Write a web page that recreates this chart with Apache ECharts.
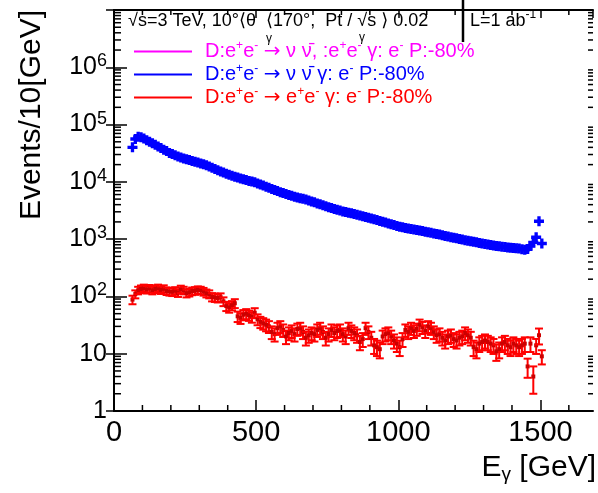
<!DOCTYPE html>
<html>
<head>
<meta charset="utf-8">
<script src="https://cdn.jsdelivr.net/npm/echarts@6/dist/echarts.min.js"></script>
<style>
html, body { margin: 0; padding: 0; background: #fff; }
#chart { width: 598px; height: 493px; }
</style>
</head>
<body>
<div id="chart"></div>
<script>
// 10 GeV bins, first bin starts at 60 GeV
var binStart = 60
var binWidth = 10

// e+e- -> nu nubar gamma (blue)
var nngCounts = [
  40000, 56000, 61000, 60000, 57000, 53000, 50000, 47000, 44500, 41500,
  39000, 36500, 34500, 32000, 30500, 29000, 27800, 26500, 25600, 24800,
  24000, 23200, 22500, 21800, 21000, 20200, 19400, 18500, 17600, 16700,
  16000, 15200, 14500, 13900, 13300, 12800, 12300, 11900, 11500, 11100,
  10800, 10400, 10100, 9800, 9400, 9000, 8600, 8200, 7900, 7500,
  7200, 6900, 6600, 6400, 6150, 5900, 5700, 5500, 5350, 5200,
  5050, 4900, 4750, 4550, 4400, 4200, 4050, 3900, 3750, 3600,
  3480, 3350, 3250, 3150, 3050, 2980, 2900, 2820, 2740, 2660,
  2590, 2520, 2440, 2370, 2300, 2220, 2150, 2080, 2010, 1950,
  1880, 1820, 1760, 1700, 1650, 1610, 1570, 1540, 1510, 1480,
  1450, 1420, 1390, 1350, 1320, 1290, 1260, 1230, 1200, 1170,
  1140, 1110, 1080, 1060, 1040, 1010, 990, 960, 940, 920,
  900, 880, 860, 840, 820, 805, 790, 775, 760, 748,
  738, 728, 718, 710, 702, 694, 684, 668, 650, 672,
  760, 880, 1080, 2050, 840
]

// e+e- -> e+e- gamma (red)
var eegCounts = [
  88, 110, 128, 135, 140, 132, 138, 128, 135, 140,
  130, 136, 125, 122, 120, 126, 116, 134, 128, 114,
  118, 124, 126, 130, 128, 122, 114, 110, 98, 96,
  94, 97, 82, 68, 64, 70, 76, 45, 42, 48,
  50, 47, 44, 52, 40, 36, 34, 32, 30, 24,
  22, 28, 30, 26, 20, 23, 25, 22, 27, 28,
  24, 19, 21, 23, 22, 26, 28, 24, 19, 22,
  26, 23, 25, 26, 22, 20, 28, 25, 23, 21,
  16, 18, 28, 24, 19, 14, 13, 12, 20, 22,
  23, 20, 17, 15, 13, 18, 26, 24, 28, 25,
  27, 32, 29, 25, 30, 28, 24, 21, 22, 19,
  17, 20, 21, 18, 17, 19, 20, 23, 21, 19,
  13, 12, 15, 16, 17, 16, 15, 14, 11, 12,
  15, 16, 14, 13, 15, 14, 13, 14, 15, 6,
  15, 4, 14, 21, 9
]
var eegErrors = [
  15.0, 17.5, 19.3, 20.1, 20.6, 19.8, 20.4, 19.3, 20.1, 20.6,
  19.6, 20.2, 19.0, 18.7, 18.5, 19.1, 18.1, 20.0, 19.3, 17.9,
  18.3, 18.9, 19.1, 19.6, 19.3, 18.7, 17.9, 17.5, 16.1, 15.9,
  15.6, 16.0, 14.3, 12.5, 12.0, 12.8, 13.5, 9.3, 8.9, 9.7,
  10.0, 9.6, 9.2, 10.3, 8.6, 8.0, 7.7, 7.4, 7.0, 6.0,
  5.7, 6.7, 7.0, 6.4, 5.3, 5.8, 6.2, 5.7, 6.5, 6.7,
  6.0, 5.1, 5.5, 5.8, 5.7, 6.4, 6.7, 6.0, 5.1, 5.7,
  6.4, 5.8, 6.2, 6.4, 5.7, 5.3, 6.7, 6.2, 5.8, 5.5,
  4.5, 4.9, 6.7, 6.0, 5.1, 4.1, 3.9, 3.7, 5.3, 5.7,
  5.8, 5.3, 4.7, 4.3, 3.9, 4.9, 6.4, 6.0, 6.7, 6.2,
  6.5, 7.4, 6.9, 6.2, 7.0, 6.7, 6.0, 5.5, 5.7, 5.1,
  4.7, 5.3, 5.5, 4.9, 4.7, 5.1, 5.3, 5.8, 5.5, 5.1,
  3.9, 3.7, 4.3, 4.5, 4.7, 4.5, 4.3, 4.1, 3.5, 3.7,
  4.3, 4.5, 4.1, 3.9, 4.3, 4.1, 3.9, 4.1, 4.3, 2.2,
  4.3, 2.0, 4.1, 6.5, 2.5
]

var seriesNames = ['sum', 'nng', 'eeg']
var seriesColors = ['#ff00ff', '#0000ff', '#ff0000']
var legendTexts = [
  'D:e{u|+}e{u|-} {a|\u2192} \u03bd \u03bd\u0304, :e{u|+}e{u|-} \u03b3: e{u|-} P:-80%',
  'D:e{u|+}e{u|-} {a|\u2192} \u03bd \u03bd\u0304 \u03b3: e{u|-} P:-80%',
  'D:e{u|+}e{u|-} {a|\u2192} e{u|+}e{u|-} \u03b3: e{u|-} P:-80%'
]

var xMin = 0, xMax = 1685
var yMin = 1, yMax = 1e7
var font = 'Liberation Sans, Arial, Helvetica, sans-serif'

var nngData = nngCounts.map(function (v, i) {
  return [binStart + binWidth * (i + 0.5), v]
})
var eegData = eegCounts.map(function (v, i) {
  return [binStart + binWidth * (i + 0.5), v, eegErrors[i]]
})

// minor ticks (ROOT style), drawn through the axes
var xMinorTicks = []
for (var t = 100; t < xMax; t += 100) {
  if (t % 500 !== 0) xMinorTicks.push([t, 1])
}
var yMinorTicks = []
for (var d = 1; d < yMax; d *= 10) {
  for (var m = 2; m <= 9; m++) yMinorTicks.push([0, m * d])
}

var chart = echarts.init(document.getElementById('chart'))

function logLabel(v) {
  var e = Math.round(Math.log10(v))
  if (e === 0) return '{b|1}'
  if (e === 1) return '{b|10}'
  if (e >= 7) return ''
  return '{b|10}{s|' + e + '}'
}

var axisLine = { show: true, lineStyle: { color: '#000', width: 2 } }

var option = {
  animation: false,
  backgroundColor: '#fff',
  grid: {
    left: 114, right: 5, top: 10, bottom: 82,
    containLabel: false,
    outerBoundsMode: 'none'
  },
  legend: {
    orient: 'vertical',
    left: 129,
    top: 35,
    itemWidth: 58,
    itemHeight: 2,
    itemGap: 1,
    icon: 'rect',
    selectedMode: false,
    data: seriesNames.map(function (n, i) {
      return { name: n, textStyle: { color: seriesColors[i] } }
    }),
    formatter: function (name) {
      return legendTexts[seriesNames.indexOf(name)]
    },
    textStyle: {
      fontFamily: font,
      fontSize: 20,
      lineHeight: 21,
      padding: [0, 0, 0, 8],
      rich: {
        u: { fontSize: 12, padding: [0, 0, 11, 0], fontFamily: font },
        a: { fontSize: 20, fontFamily: 'DejaVu Sans' }
      }
    }
  },
  xAxis: [{
    type: 'value',
    min: xMin, max: xMax, interval: 500,
    axisLine: axisLine,
    axisTick: { show: true, inside: true, length: 11, lineStyle: { color: '#000', width: 1.5 } },
    minorTick: { show: false },
    splitLine: { show: false },
    axisLabel: {
      color: '#000', fontFamily: font, fontSize: 29, margin: 7,
      showMaxLabel: false,
      formatter: function (v) { return String(v) }
    }
  }, {
    type: 'value',
    position: 'top',
    min: xMin, max: xMax, interval: 500,
    axisLine: axisLine,
    axisTick: { show: true, inside: true, length: 8, lineStyle: { color: '#000', width: 1.5 } },
    splitLine: { show: false },
    axisLabel: { show: false }
  }],
  yAxis: [{
    type: 'log',
    logBase: 10,
    min: yMin, max: yMax, splitNumber: 7,
    axisLine: axisLine,
    axisTick: { show: true, inside: true, length: 13, lineStyle: { color: '#000', width: 1.5 } },
    splitLine: { show: false },
    axisLabel: {
      color: '#000', fontFamily: font, margin: 7,
      formatter: logLabel,
      rich: {
        b: { fontSize: 25, fontFamily: font, color: '#000' },
        s: { fontSize: 18, fontFamily: font, color: '#000', padding: [0, 0, 12, 0] }
      }
    }
  }, {
    type: 'log',
    logBase: 10,
    position: 'right',
    min: yMin, max: yMax, splitNumber: 7,
    axisLine: axisLine,
    axisTick: { show: true, inside: true, length: 8, lineStyle: { color: '#000', width: 1.5 } },
    splitLine: { show: false },
    axisLabel: { show: false }
  }],
  graphic: [
    {
      type: 'text', x: 32, y: 10, rotation: Math.PI / 2,
      style: { text: 'Events/10[GeV]', font: '30px ' + font, fill: '#000', align: 'right', verticalAlign: 'middle' }
    },
    {
      type: 'text', x: 596, y: 468,
      style: {
        text: 'E{s|\u03b3} [GeV]', font: '30px ' + font, fill: '#000', align: 'right', verticalAlign: 'middle',
        rich: { s: { fontSize: 19, fontFamily: font, padding: [14, 0, 0, 0] } }
      }
    },
    {
      type: 'text', x: 128, y: 21,
      style: {
        text: '\u221as=3 TeV, 10\u00b0{a|\u27e8}\u03b8  {a|\u27e8}170\u00b0,  Pt / \u221as {a|\u27e9} 0.02',
        font: '18px ' + font, fill: '#000', verticalAlign: 'middle',
        rich: { a: { fontSize: 18, fontFamily: 'DejaVu Sans' } }
      }
    },
    { type: 'text', x: 266, y: 39, style: { text: '\u03b3', font: '12px ' + font, fill: '#000', verticalAlign: 'middle' } },
    { type: 'text', x: 359, y: 38, style: { text: '\u03b3', font: '12px ' + font, fill: '#000', verticalAlign: 'middle' } },
    {
      type: 'line', shape: { x1: 463, y1: 0, x2: 463, y2: 42 },
      style: { stroke: '#000', lineWidth: 2.5 }
    },
    {
      type: 'text', x: 470, y: 21,
      style: {
        text: 'L=1 ab{s|-1}', font: '18px ' + font, fill: '#000', verticalAlign: 'middle',
        rich: { s: { fontSize: 12, fontFamily: font, padding: [0, 0, 12, 0] } }
      }
    }
  ],
  series: [
    {
      name: 'sum',
      type: 'line',
      color: seriesColors[0],
      data: []
    },
    {
      name: 'nng',
      type: 'scatter',
      color: seriesColors[1],
      symbol: 'path://M2,0H4V2H6V4H4V6H2V4H0V2H2Z',
      symbolSize: 10,
      itemStyle: { color: seriesColors[1], opacity: 1 },
      data: nngData,
      z: 3
    },
    {
      name: 'eeg',
      type: 'custom',
      color: seriesColors[2],
      encode: { x: 0, y: 1 },
      data: eegData,
      z: 4,
      renderItem: function (params, api) {
        var x = api.value(0)
        var v = api.value(1)
        var e = api.value(2)
        var p = api.coord([x, v])
        var hi = api.coord([x, v + e])
        var lo = api.coord([x, Math.max(v - e, 0.01)])
        var cap = 4
        var st = { stroke: '#ff0000', lineWidth: 2 }
        return {
          type: 'group',
          children: [
            { type: 'line', shape: { x1: p[0], y1: hi[1], x2: p[0], y2: lo[1] }, style: st },
            { type: 'line', shape: { x1: p[0] - cap, y1: hi[1], x2: p[0] + cap, y2: hi[1] }, style: st },
            { type: 'line', shape: { x1: p[0] - cap, y1: lo[1], x2: p[0] + cap, y2: lo[1] }, style: st },
            { type: 'rect', shape: { x: p[0] - 2, y: p[1] - 2, width: 4, height: 4 }, style: { fill: '#cc0000' } }
          ]
        }
      }
    },
    {
      name: 'xMinor',
      type: 'custom',
      silent: true,
      data: xMinorTicks,
      renderItem: function (params, api) {
        var cs = params.coordSys
        var px = api.coord([api.value(0), 1])[0]
        var st = { stroke: '#000', lineWidth: 1.5 }
        return {
          type: 'group',
          children: [
            { type: 'line', shape: { x1: px, y1: cs.y + cs.height, x2: px, y2: cs.y + cs.height - 6 }, style: st },
            { type: 'line', shape: { x1: px, y1: cs.y, x2: px, y2: cs.y + 5 }, style: st }
          ]
        }
      }
    },
    {
      name: 'yMinor',
      type: 'custom',
      silent: true,
      data: yMinorTicks,
      renderItem: function (params, api) {
        var cs = params.coordSys
        var py = api.coord([0, api.value(1)])[1]
        var st = { stroke: '#000', lineWidth: 1.5 }
        return {
          type: 'group',
          children: [
            { type: 'line', shape: { x1: cs.x, y1: py, x2: cs.x + 7, y2: py }, style: st },
            { type: 'line', shape: { x1: cs.x + cs.width, y1: py, x2: cs.x + cs.width - 5, y2: py }, style: st }
          ]
        }
      }
    }
  ]
}
chart.setOption(option)
</script>
</body>
</html>
